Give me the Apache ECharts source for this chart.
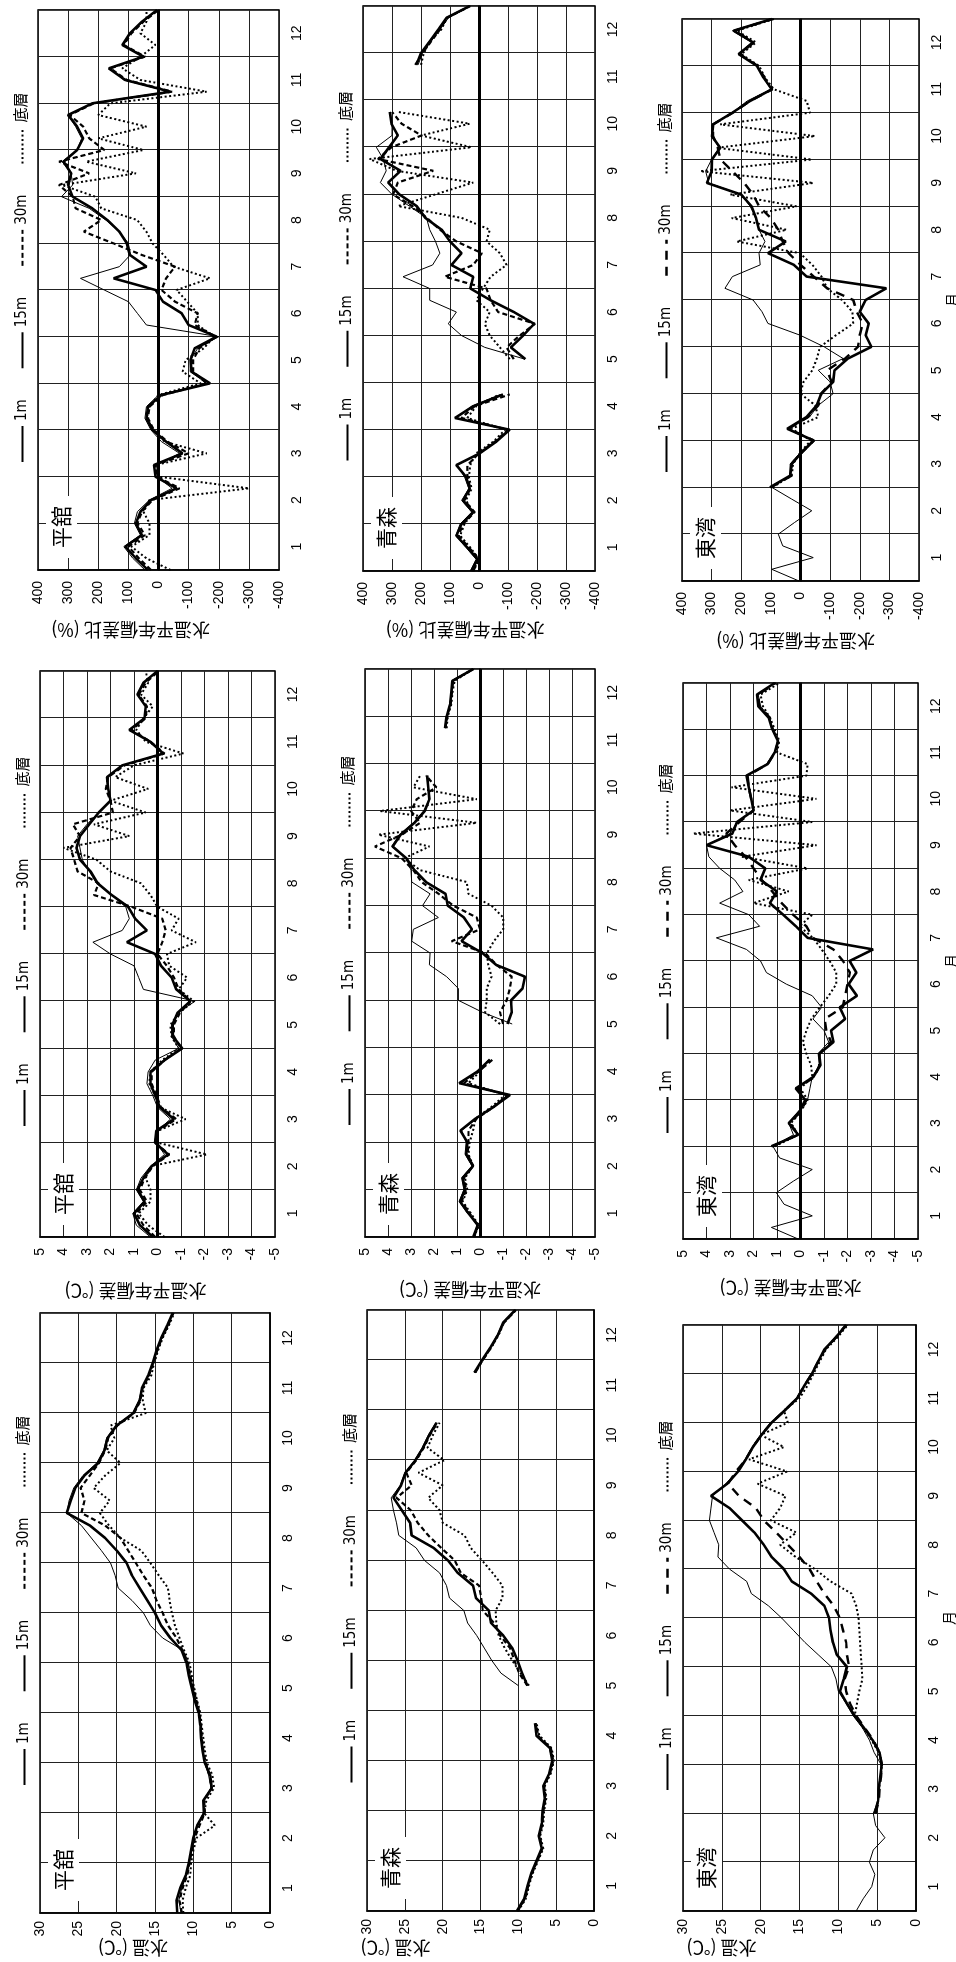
<!DOCTYPE html>
<html>
<head>
<meta charset="utf-8">
<title>水温・水温平年偏差・水温平年偏差比</title>
<script src="https://cdn.jsdelivr.net/npm/echarts@6/dist/echarts.min.js"></script>
<style>
  html, body { margin: 0; padding: 0; background: #fff; width: 956px; height: 1962px; overflow: hidden; }
  /* the figure is laid out landscape and turned a quarter turn counter-clockwise */
  #chart { position: absolute; left: 0; top: 0; width: 1962px; height: 956px;
           transform-origin: 0 0; transform: translate(0px, 1962px) rotate(-90deg); }
</style>
</head>
<body>
<div id="chart"></div>
<script>
// x positions of the samples, in months from 1 Jan (quarter-month steps)
const monthPos = [0,0.25,0.5,0.75,1,1.25,1.5,1.75,2,2.25,2.5,2.75,3,3.25,3.5,3.75,4,4.25,4.5,4.75,5,5.25,5.5,5.75,6,6.25,6.5,6.75,7,7.25,7.5,7.75,8,8.25,8.5,8.75,9,9.25,9.5,9.75,10,10.25,10.5,10.75,11,11.25,11.5,11.75,12];
const monthLabels = ['1','2','3','4','5','6','7','8','9','10','11','12'];
const depthNames = ['1m', '15m', '30m', '底層'];

// ---- 平舘 ----
const hiraTemp1m = [11.6,11.9,11.5,10.9,10.5,10.2,9.9,9.5, 8.7,8.7,7.7,8.0,8.5,8.7,8.9,9.0, 9.2,9.7,10.0,10.4,10.7,11.3,14.0,15.6, 16.5,18.0,19.8,20.2,20.8,22.0,23.3,24.6, 26.5,26.2,25.6,24.4,22.6,21.7,21.3,20.1, 17.9,17.1,16.7,15.9,15.3,14.7,14.1,13.3, 12.6];
const hiraTemp15m = [12.1,12.2,11.7,11.0,10.6,10.3,10.0,9.5, 8.6,8.7,7.6,7.8,8.5,8.8,9.0,9.1, 9.3,9.8,10.2,10.6,10.9,11.5,13.0,14.2, 15.0,16.0,17.0,18.0,18.7,20.0,21.5,23.5, 26.5,26.0,25.4,24.2,22.4,21.6,21.2,20.0, 17.8,17.0,16.7,15.9,15.3,14.8,14.2,13.4, 12.7];
const hiraTemp30m = [11.5,11.8,11.4,10.8,10.5,10.2,9.8,9.2, 8.5,8.6,7.6,7.9,8.4,8.7,8.9,9.0, 9.2,9.6,10.0,10.4,10.7,11.4,12.2,13.3, 14.0,14.8,15.4,16.5,17.5,18.5,19.5,21.5, 24.6,24.2,24.7,23.5,22.3,21.5,21.1,19.9, 17.7,16.9,16.6,15.8,15.2,14.7,14.1,13.3, 12.6];
const hiraTempBottom = [11.3,11.4,11.0,10.4,10.3,10.0,9.6,7.2, 8.6,8.3,7.3,7.5,8.2,8.5,8.7,8.9, 9.1,9.5,9.9,10.2,10.5,11.2,11.8,12.4, 12.8,13.1,13.3,14.5,15.6,16.8,19.5,21.0, 22.2,20.9,23.0,21.5,19.5,21.3,20.3,20.8, 16.2,16.6,16.5,15.5,15.1,14.6,14.0,13.2, 12.5];

const hiraDev1m = [0.3,0.9,1.05,0.6,0.9,0.7,0.3,-0.3, 0.05,0.0,-0.55,0.0,0.2,0.45,0.4,0.1, -0.9,-0.6,-0.6,-0.85,-1.6,0.6,0.8,1.0, 2.0,2.75,1.5,1.2,1.35,1.95,2.6,2.9, 3.2,3.3,3.4,3.0,2.5,2.0,2.1,2.1, 1.45,-0.2,0.35,1.15,0.55,0.5,0.85,0.55, 0.0];
const hiraDev15m = [0.2,0.75,1.0,0.55,0.85,0.6,0.25,-0.45, 0.1,0.05,-0.7,-0.1,0.1,0.3,0.3,-0.3, -1.05,-0.66,-0.64,-0.85,-1.4,-0.8,-0.6,-0.15, 0.1,1.3,0.45,0.95,1.25,1.95,2.55,2.85, 3.3,3.45,3.3,2.9,2.5,2.0,2.1,2.15, 1.5,-0.25,0.3,1.2,0.55,0.5,0.85,0.6, 0.0];
const hiraDev30m = [0.1,0.6,0.9,0.45,0.75,0.55,0.2,-0.5, 0.1,0.0,-0.8,-0.15,0.05,0.25,0.25,-0.3, -1.0,-0.7,-0.7,-0.95,-1.4,-0.9,-0.7,-0.4, 0.0,-0.2,-0.35,-0.2,1.1,2.7,2.5,3.4, 3.55,3.7,3.3,3.6,1.9,2.0,2.2,2.1, 1.4,-0.3,0.3,1.1,0.5,0.45,0.8,0.5, -0.05];
const hiraDevBottom = [-0.3,0.4,0.8,0.3,0.3,0.5,0.3,-2.1, 0.0,0.0,-1.2,-0.1,0.1,0.35,0.3,-0.2, -0.9,-0.6,-0.55,-0.9,-1.55,-0.9,-1.26,-0.5, -0.4,-1.63,-0.6,-0.9,0.0,0.3,0.71,2.0, 2.6,4.0,1.2,2.7,0.5,2.0,0.4,1.8, 1.0,-1.1,0.5,0.9,0.6,0.2,0.7,0.4, 0.5];

const hiraRatio1m = [45,85,115,60,80,70,30,-45, 5,5,-70,-10,25,45,40,0, -160,-105,-106,-130,-200,40,70,100, 180,259,130,94,100,130,175,230, 322,285,290,320,270,255,275,300, 215,-35,115,160,45,115,95,50, 5];
const hiraRatio15m = [35,75,110,55,75,60,25,-60, 10,15,-80,-25,20,40,35,-10, -171,-110,-106,-120,-193,-100,-77,-15, 10,149,40,95,105,130,170,220, 285,300,290,315,270,250,270,300, 220,-40,110,165,50,120,95,55, 5];
const hiraRatio30m = [25,65,100,45,70,55,20,-70, 5,10,-100,-30,15,35,30,-15, -160,-115,-115,-135,-190,-120,-130,-55, -10,-25,-55,55,150,248,190,275, 285,330,230,330,180,230,250,295, 215,-45,105,160,45,115,90,50, 0];
const hiraRatioBottom = [-40,40,90,30,30,50,30,-300, 0,10,-160,-20,15,40,30,0, -140,-80,-90,-150,-185,-130,-130,-95, -60,-171,-50,-17,20,40,71,190, 210,320,75,240,50,200,40,200, 160,-160,60,120,60,10,60,40, 40];

// ---- 青森 (no record in parts of spring and autumn) ----
const aomoriTemp1m = [10.0,9.1,8.7,8.2,7.5,6.9,7.2,6.8, 6.7,6.4,6.6,5.9,5.5,5.9,7.3,7.7, null,null,10.0,12.3,13.5,14.5,15.5,16.7, 17.2,19.1,19.5,20.4,22.4,23.5,25.8,26.1, 26.5,26.8,25.6,25.0,23.7,22.7,21.9,20.9, null,null,null,15.8,14.8,13.7,12.8,12.0, 10.4];
const aomoriTemp15m = [10.2,9.2,8.8,8.3,7.6,6.9,7.3,6.9, 6.8,6.5,6.7,5.9,5.5,5.8,7.6,7.8, null,null,8.8,9.5,10.1,10.8,12.0,13.6, 13.9,15.6,16.0,18.0,19.3,21.2,24.1,24.3, 25.4,26.5,25.5,24.9,23.6,22.6,21.8,20.8, null,null,null,15.8,14.8,13.7,12.7,12.0, 10.4];
const aomoriTemp30m = [10.1,9.1,8.7,8.2,7.5,6.8,7.2,6.8, 6.7,6.4,6.6,5.8,5.4,5.7,7.4,7.7, null,null,8.8,9.9,10.5,11.1,12.4,13.2, 14.7,14.9,15.2,17.6,18.4,20.2,21.9,23.3, 24.2,26.1,24.1,24.8,23.5,22.5,21.7,20.7, null,null,null,15.7,14.7,13.6,12.7,11.9, 10.3];
const aomoriTempBottom = [10.0,9.0,8.6,8.1,7.4,6.7,7.1,6.7, 6.6,6.3,6.5,5.7,5.3,5.6,7.2,7.6, null,null,8.6,9.7,10.8,11.8,12.6,12.9, 13.0,12.1,12.1,13.4,14.8,16.3,17.1,20.0, 20.4,21.9,20.0,23.2,19.8,22.0,21.3,20.4, null,null,null,15.7,14.7,13.6,12.6,11.9, 10.3];

const aomoriDev1m = [0.3,0.0,0.55,0.9,0.7,0.8,0.35,0.65, 0.6,0.8,0.15,-0.55,-1.2,0.85,0.1,-0.4, null,null,-1.4,-0.1,0.94,0.94,1.45,2.2, 2.17,2.97,2.9,1.81,2.5,2.17,2.97,3.0, 3.2,3.84,3.5,2.9,2.45,2.2,2.25,2.3, null,null,null,1.5,1.42,1.3,1.22,1.15, 0.25];
const aomoriDev15m = [0.3,0.1,0.5,0.87,0.65,0.75,0.3,0.6, 0.55,0.85,0.2,-0.6,-1.3,0.9,0.1,-0.43, null,null,-1.2,-1.38,-1.35,-1.85,-1.96,-0.7, -0.1,0.8,0.35,0.7,1.4,1.5,2.35,2.85, 3.2,3.8,3.45,2.85,2.4,2.2,2.25,2.3, null,null,null,1.52,1.45,1.3,1.25,1.2, 0.29];
const aomoriDev30m = [0.25,0.1,0.45,0.8,0.6,0.7,0.3,0.55, 0.5,0.5,0.15,-0.6,-1.2,0.7,0.05,-0.55, null,null,-1.0,-0.87,-1.16,-1.3,-1.38,-0.72, -0.22,1.23,0.0,0.14,1.16,1.8,2.54,2.9, 3.4,4.57,3.4,2.6,3.0,2.75,1.9,2.35, null,null,null,1.5,1.43,1.28,1.22,1.18, 0.3];
const aomoriDevBottom = [0.25,0.05,0.4,0.75,0.55,0.65,0.3,0.5, 0.45,0.3,0.2,-0.5,-1.1,0.5,0.0,-0.4, null,null,-0.87,-0.22,-0.29,-0.29,-0.5,-0.36, -0.3,-0.6,-1.01,-1.01,-0.5,0.5,0.58,2.6, 3.3,2.2,4.42,0.14,4.35,0.14,2.9,2.6, null,null,null,1.45,1.4,1.25,1.2,1.1, 0.3];

const aomoriRatio1m = [30,10,45,80,65,25,60,35, 50,75,0,-55,-100,80,25,-75, null,null,-158,-20,60,106,78,170, 170,262,160,135,150,170,181,240, 300,340,320,330,354,300,300,305, null,null,null,210,195,165,135,105, 30];
const aomoriRatio15m = [26,5,40,78,60,20,55,32, 45,78,-3,-60,-106,83,20,-83, null,null,-160,-110,-152,-190,-120,-40, 30,20,95,60,100,129,185,215, 275,313,270,340,310,280,302,308, null,null,null,216,200,170,140,112, 32];
const aomoriRatio30m = [20,0,35,70,55,15,50,30, 40,40,0,-55,-100,60,15,-106, null,null,-120,-95,-140,-193,-66,-40, -26,118,20,-10,78,135,180,230, 296,280,158,348,302,198,267,300, null,null,null,220,195,165,135,110, 30];
const aomoriRatioBottom = [20,0,30,65,50,20,45,25, 35,30,10,-50,-90,40,10,-70, null,null,-106,-72,-37,-20,-37,9, -14,-40,-95,-72,-26,-37,60,279, 150,20,285,377,26,200,32,279, null,null,null,200,190,170,130,110, 30];

// ---- 東湾 (only the 1m record covers January) ----
const higashiTemp1m = [7.7,6.8,5.7,5.3,6.0,5.5,4.0,5.2, 5.5,4.9,4.9,4.6,4.5,5.4,6.0,6.9, 8.1,9.0,10.0,10.3,10.9,12.6,14.3,15.8, 17.3,19.0,21.2,21.8,24.0,25.5,25.4,26.0, 26.6,26.4,26.2,24.5,23.0,22.0,21.1,20.0, 18.7,17.0,15.4,14.4,13.4,12.6,11.7,10.2, 8.8];
const higashiTemp15m = [null,null,null,null,null,null,null,null, 5.3,4.9,4.8,4.6,4.4,4.7,5.6,6.7, 7.9,8.9,9.8,9.3,8.9,10.2,10.7,11.0, 11.2,11.8,13.5,16.0,17.0,18.6,19.6,20.8, 22.4,24.0,26.4,24.3,22.9,21.9,21.0,19.9, 18.6,16.9,15.3,14.4,13.4,12.6,11.8,10.3, 9.0];
const higashiTemp30m = [null,null,null,null,null,null,null,null, 5.2,4.8,4.7,4.5,4.4,4.7,5.5,6.6, 7.7,8.5,9.0,9.2,8.6,8.9,9.0,9.4, 9.8,10.6,11.8,12.8,13.7,15.0,16.5,18.0, 19.6,20.6,22.8,24.2,23.2,21.9,21.0,19.9, 18.6,16.9,15.3,14.4,13.4,12.6,11.7,10.3, 9.0];
const higashiTempBottom = [null,null,null,null,null,null,null,null, 5.2,4.9,4.8,4.5,4.4,4.8,5.7,6.8, 7.9,7.6,7.3,6.9,7.0,7.1,7.2,7.3, 7.4,7.7,8.3,11.0,13.0,15.5,17.5,15.4, 18.7,17.5,16.8,20.4,16.6,21.5,17.0,20.0, 16.5,17.0,15.0,14.0,13.2,12.4,11.6,10.1, 8.8];

const higashiDev1m = [0.1,1.24,-0.5,0.7,1.03,0.3,-0.5,0.89, 1.17,0.3,0.5,0.1,-0.3,-0.4,-0.5,-0.8, -0.75,-1.2,-1.0,-0.53,-0.9,-0.5,0.6,1.45, 1.7,2.3,3.58,1.74,2.2,3.44,2.45,2.8, 3.44,3.9,4.0,3.0,2.7,2.0,2.1,2.2, 2.25,1.45,1.1,0.96,1.2,1.3,1.7,1.8, 1.1];
const higashiDev15m = [null,null,null,null,null,null,null,null, 1.24,0.1,0.5,0.04,-0.2,0.2,-0.55,-0.85, -0.8,-1.4,-1.3,-1.9,-1.67,-2.4,-2.05,-2.38, -2.09,-3.09,-0.3,0.2,0.74,1.3,1.0,1.7, 1.5,2.2,4.0,2.9,2.7,2.0,2.1,2.2, 2.3,1.4,1.1,0.96,1.2,1.35,1.8,1.85, 1.1];
const higashiDev30m = [null,null,null,null,null,null,null,null, 1.2,0.1,0.45,0.0,-0.25,0.15,-0.6,-0.8, -0.8,-1.3,-1.1,-1.03,-1.8,-1.9,-2.0,-2.1, -1.81,-1.4,-0.53,-0.25,0.32,0.8,1.2,1.65, 2.0,2.35,2.8,3.16,2.6,2.0,2.1,2.2, 2.25,1.4,1.08,0.95,1.18,1.3,1.75,1.8, 1.05];
const higashiDevBottom = [null,null,null,null,null,null,null,null, 1.1,0.1,0.4,0.0,-0.3,0.0,-0.5,-0.45, -0.25,-0.1,-0.25,-0.46,-0.82,-1.2,-1.52,-1.52, -1.24,-0.9,-0.53,0.04,-0.5,2.0,0.5,2.2, -0.3,2.5,-0.68,4.57,-0.5,3.0,-0.68,2.94, -0.25,-0.3,1.0,0.9,1.1,1.3,1.6,1.7, 0.9];

const higashiRatio1m = [5,97,-43,60,75,20,-38,30, 97,35,35,0,-40,40,-30,-60, -110,-100,-60,-144,-80,2,110,130, 160,255,230,136,140,120,140,150, 170,200,310,320,300,275,299,299, 230,180,100,125,145,210,165,230, 100];
const higashiRatio15m = [null,null,null,null,null,null,null,null, 103,35,30,-5,-45,45,-20,-55, -70,-110,-115,-160,-239,-220,-230,-200, -220,-290,-21,22,110,50,140,150, 165,200,316,300,299,271,299,295, 230,170,97,125,147,209,160,226, 97];
const higashiRatio30m = [null,null,null,null,null,null,null,null, 100,30,30,-5,-45,40,-25,-60, -70,-105,-90,-150,-194,-200,-210,-190, -178,-90,-45,0,40,60,75,100, 140,160,190,230,270,280,295,295, 228,170,95,122,145,205,158,222, 95];
const higashiRatioBottom = [null,null,null,null,null,null,null,null, 95,30,25,0,-35,30,-60,-50, 0,-10,-40,-55,-66,-120,-178,-175, -140,-90,-71,-40,2,215,47,232, 13,237,-43,338,-38,282,-49,271, -32,-21,90,120,140,200,150,215, 90];

// ---- layout (landscape frame, before the quarter turn) ----
const FONT_NUM = "'Liberation Sans','Noto Sans CJK JP',sans-serif";
const FONT_LEG = "'Liberation Sans Narrow','DejaVu Sans Condensed','Noto Sans CJK JP',sans-serif";
const FONT_JP = "'Noto Sans CJK JP','Noto Sans CJK SC',sans-serif";

const kinds = {
  temp:  { min: 0,    max: 30,  interval: 5,   title: '水温 (℃)',          labelMargin: 8 },
  dev:   { min: -5,   max: 5,   interval: 1,   title: '水温平年偏差 (℃)',   labelMargin: 11 },
  ratio: { min: -400, max: 400, interval: 100, title: '水温平年偏差比 (%)', labelMargin: 11 }
};

const panels = [
  { station: '平舘', kind: 'temp',  lines: [hiraTemp1m, hiraTemp15m, hiraTemp30m, hiraTempBottom],         box: [49, 40, 600, 230],   nameAt: [-35, -22] },
  { station: '青森', kind: 'temp',  lines: [aomoriTemp1m, aomoriTemp15m, aomoriTemp30m, aomoriTempBottom], box: [51, 367, 601, 227],  nameAt: [-37, -85] },
  { station: '東湾', kind: 'temp',  lines: [higashiTemp1m, higashiTemp15m, higashiTemp30m, higashiTempBottom], box: [51, 683, 586, 233], nameAt: [-37, -78] },
  { station: '平舘', kind: 'dev',   lines: [hiraDev1m, hiraDev15m, hiraDev30m, hiraDevBottom],             box: [725, 40, 566, 235],  nameAt: [-54, -22] },
  { station: '青森', kind: 'dev',   lines: [aomoriDev1m, aomoriDev15m, aomoriDev30m, aomoriDevBottom],     box: [725, 365, 568, 230], nameAt: [-53, -10] },
  { station: '東湾', kind: 'dev',   lines: [higashiDev1m, higashiDev15m, higashiDev30m, higashiDevBottom], box: [723, 683, 556, 235], nameAt: [-49, -10] },
  { station: '平舘', kind: 'ratio', lines: [hiraRatio1m, hiraRatio15m, hiraRatio30m, hiraRatioBottom],     box: [1392, 38, 560, 241], nameAt: [-60, -28] },
  { station: '青森', kind: 'ratio', lines: [aomoriRatio1m, aomoriRatio15m, aomoriRatio30m, aomoriRatioBottom], box: [1391, 363, 565, 232], nameAt: [-59, -14] },
  { station: '東湾', kind: 'ratio', lines: [higashiRatio1m, higashiRatio15m, higashiRatio30m, higashiRatioBottom], box: [1381, 682, 562, 237], nameAt: [-60, -5] }
];

function lineStyleFor(depthIndex, longDash) {
  if (depthIndex === 0) return { color: '#000', width: 1, type: 'solid' };
  if (depthIndex === 1) return { color: '#000', width: 2.6, type: 'solid' };
  if (depthIndex === 2) return longDash
    ? { color: '#000', width: 2.4, type: [9, 7], cap: 'butt' }
    : { color: '#000', width: 2.2, type: [5, 3], cap: 'butt' };
  return { color: '#000', width: 2, type: [2, 2.5], cap: 'butt' };
}

const option = {
  animation: false,
  backgroundColor: '#fff',
  grid: [], xAxis: [], yAxis: [], series: [], legend: [], title: [], graphic: []
};

panels.forEach((p, i) => {
  const [left, top, width, height] = p.box;
  const k = kinds[p.kind];
  const longDash = p.station === '東湾';

  option.grid.push({ left, top, width, height, show: true, borderColor: '#000', borderWidth: 1.5,
                     backgroundColor: 'transparent', containLabel: false, outerBoundsMode: 'none' });

  // month scale carrying the data and the month grid lines
  option.xAxis.push({
    gridIndex: i, type: 'value', min: 0, max: 12, interval: 1,
    axisLabel: { show: false }, axisTick: { show: false },
    axisLine: { show: true, lineStyle: { color: '#000', width: 1.5 } },
    splitLine: { show: true, lineStyle: { color: '#222', width: 1 } }
  });
  // month names centred in each month
  option.xAxis.push({
    gridIndex: i, type: 'category', data: monthLabels, boundaryGap: true, position: 'bottom',
    axisLine: { show: false }, axisTick: { show: false }, splitLine: { show: false },
    axisLabel: { interval: 0, margin: 11, fontSize: 14, color: '#000', fontFamily: FONT_NUM },
    name: longDash ? '月' : '', nameLocation: 'middle', nameGap: 22,
    nameTextStyle: { fontSize: 14, color: '#000', fontFamily: FONT_JP }
  });
  option.yAxis.push({
    gridIndex: i, type: 'value', min: k.min, max: k.max, interval: k.interval,
    axisLine: { show: true, lineStyle: { color: '#000', width: 1.5 } },
    axisTick: { show: false },
    axisLabel: { margin: k.labelMargin, fontSize: 14, color: '#000', fontFamily: FONT_NUM },
    splitLine: { show: true, lineStyle: { color: '#222', width: 1 } }
  });

  p.lines.forEach((vals, j) => {
    const s = {
      type: 'line', name: depthNames[j], xAxisIndex: 2 * i, yAxisIndex: i,
      data: monthPos.map((m, n) => [m, vals[n]]),
      symbol: 'none', showSymbol: false, silent: true, connectNulls: false,
      lineStyle: lineStyleFor(j, longDash), itemStyle: { color: '#000' },
      z: 3 + (j === 1 ? 1 : 0)
    };
    if (j === 0 && p.kind !== 'temp') {
      s.markLine = { silent: true, symbol: 'none', label: { show: false },
                     lineStyle: { color: '#000', width: 3, type: 'solid' },
                     data: [{ yAxis: 0 }] };
    }
    option.series.push(s);
  });

  // legend keys: line samples only (the marker is made transparent)
  const clearMarker = { color: 'rgba(0,0,0,0)', borderColor: 'rgba(0,0,0,0)', borderWidth: 0, opacity: 0 };
  option.legend.push({
    top: top - 28, left: left + width / 2 - 178,
    itemWidth: 36, itemHeight: 12, itemGap: 30, selectedMode: false,
    itemStyle: clearMarker,
    textStyle: { fontSize: 15, color: '#000', fontFamily: FONT_LEG },
    data: depthNames.map(n => {
      const item = { name: n, itemStyle: clearMarker };
      if (n === '30m') item.lineStyle = longDash ? { type: [9, 7], width: 2.4 } : { type: [5, 3], width: 2.2 };
      return item;
    })
  });

  option.title.push({
    text: p.station, left: left + 12, top: top + 8,
    backgroundColor: '#fff', padding: [5, 10],
    textStyle: { fontSize: 21, fontWeight: 'normal', color: '#000', fontFamily: FONT_JP }
  });

  option.graphic.push({
    type: 'text', x: left + p.nameAt[0], y: top + height / 2 + p.nameAt[1],
    rotation: Math.PI / 2, silent: true,
    style: { text: k.title, fontSize: 18, fill: '#000', fontFamily: FONT_JP,
             align: 'center', verticalAlign: 'middle' }
  });
});

const chart = echarts.init(document.getElementById('chart'), null, { renderer: 'canvas', width: 1962, height: 956 });
chart.setOption(option);
</script>
</body>
</html>
